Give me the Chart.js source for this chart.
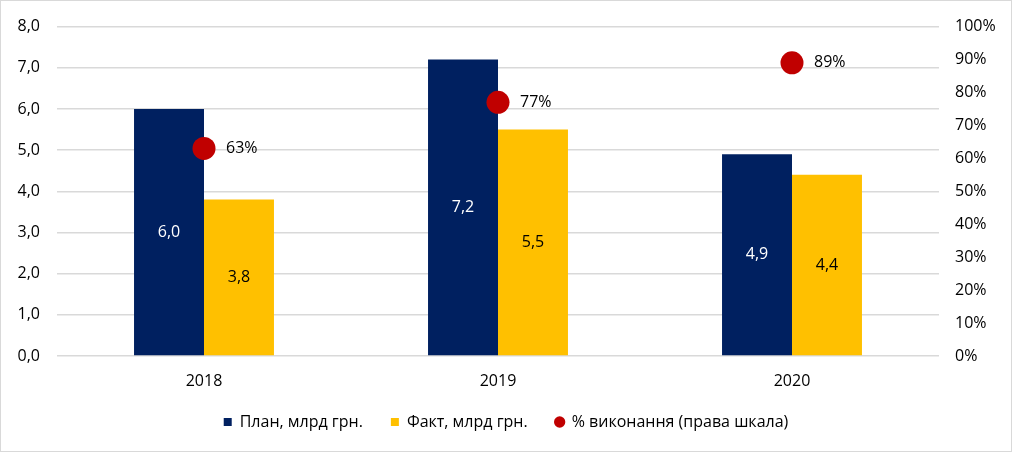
<!DOCTYPE html>
<html>
<head>
<meta charset="utf-8">
<script src="https://cdn.jsdelivr.net/npm/chart.js@4/dist/chart.umd.min.js"></script>
<style>
  html, body { margin: 0; padding: 0; background: #fff; }
  #wrap { position: relative; width: 1012px; height: 452px; }
  canvas { display: block; }
</style>
</head>
<body>
<div id="wrap"><canvas id="chart" width="1012" height="452"></canvas></div>
<script>
const years = ["2018", "2019", "2020"];
const plan = [6.0, 7.2, 4.9];
const fact = [3.8, 5.5, 4.4];
const done = [63, 77, 89];
const leftTicks = [0, 1, 2, 3, 4, 5, 6, 7, 8];
const rightTicks = [0, 10, 20, 30, 40, 50, 60, 70, 80, 90, 100];

const FONT = "'Open Sans', 'Noto Sans', sans-serif";
const fmt = v => v.toFixed(1).replace(".", ",");

// подписи значений и рамка
const labelsPlugin = {
  id: "labels",
  beforeDraw(chart) {
    const ctx = chart.ctx;
    ctx.save();
    ctx.fillStyle = "#fff";
    ctx.fillRect(0, 0, chart.width, chart.height);
    ctx.strokeStyle = "#d9d9d9";
    ctx.lineWidth = 1;
    ctx.strokeRect(0.5, 0.5, chart.width - 1, chart.height - 1);
    ctx.restore();
  },
  afterDatasetsDraw(chart) {
    const ctx = chart.ctx;
    ctx.save();
    ctx.font = "16px " + FONT;
    ctx.textAlign = "center";
    ctx.textBaseline = "middle";
    [0, 1].forEach(i => {
      const meta = chart.getDatasetMeta(i);
      const vals = chart.data.datasets[i].data;
      ctx.fillStyle = i === 0 ? "#ffffff" : "#000000";
      meta.data.forEach((bar, j) => {
        ctx.fillText(fmt(vals[j]), bar.x, (bar.y + bar.base) / 2);
      });
    });
    const pm = chart.getDatasetMeta(2);
    ctx.textAlign = "left";
    ctx.fillStyle = "#000";
    pm.data.forEach((pt, j) => {
      ctx.fillText(done[j] + "%", pt.x + 22, pt.y);
    });
    ctx.restore();
  }
};

new Chart(document.getElementById("chart"), {
  type: "bar",
  data: {
    labels: years,
    datasets: [
      {
        label: "План, млрд грн.",
        data: plan,
        backgroundColor: "#002060",
        yAxisID: "y",
        order: 1,
        categoryPercentage: 0.476,
        barPercentage: 1
      },
      {
        label: "Факт, млрд грн.",
        data: fact,
        backgroundColor: "#FFC000",
        yAxisID: "y",
        order: 1,
        categoryPercentage: 0.476,
        barPercentage: 1
      },
      {
        type: "line",
        label: "% виконання (права шкала)",
        data: done,
        showLine: false,
        yAxisID: "y1",
        order: 0,
        pointStyle: "circle",
        pointRadius: 11.5,
        pointHoverRadius: 11.5,
        backgroundColor: "#C00000",
        borderColor: "#C00000",
        borderWidth: 0
      }
    ]
  },
  options: {
    responsive: false,
    animation: false,
    layout: { padding: { top: 25, left: 0, right: 0, bottom: 12 } },
    plugins: {
      tooltip: { enabled: false },
      legend: {
        position: "bottom",
        labels: {
          sort: (a, b) => a.datasetIndex - b.datasetIndex,
          usePointStyle: true,
          boxWidth: 8,
          boxHeight: 8,
          padding: 28,
          color: "#000",
          font: { family: FONT, size: 16 },
          generateLabels(chart) {
            return chart.data.datasets.map((ds, i) => ({
              text: ds.label,
              fillStyle: ds.backgroundColor,
              strokeStyle: ds.backgroundColor,
              lineWidth: 0,
              pointStyle: i === 2 ? "circle" : "rect",
              datasetIndex: i,
              fontColor: "#000"
            }));
          }
        }
      }
    },
    scales: {
      x: {
        grid: { display: false, drawTicks: false },
        border: { display: false },
        ticks: { color: "#000", padding: 16, font: { family: FONT, size: 16 } },
        afterFit: s => { s.height = 30; }
      },
      y: {
        position: "left",
        min: 0,
        max: 8,
        afterBuildTicks: s => { s.ticks = leftTicks.map(v => ({ value: v })); },
        grid: { color: "#d9d9d9", lineWidth: 1.5, drawTicks: false },
        border: { display: false },
        ticks: { color: "#000", padding: 17, font: { family: FONT, size: 16 }, callback: v => fmt(v) },
        afterFit: s => { s.width = 57; }
      },
      y1: {
        position: "right",
        min: 0,
        max: 100,
        afterBuildTicks: s => { s.ticks = rightTicks.map(v => ({ value: v })); },
        grid: { display: false, drawTicks: false },
        border: { display: false },
        ticks: { color: "#000", padding: 16, font: { family: FONT, size: 16 }, callback: v => v + "%" },
        afterFit: s => { s.width = 73; }
      }
    }
  },
  plugins: [labelsPlugin]
});
</script>
</body>
</html>
